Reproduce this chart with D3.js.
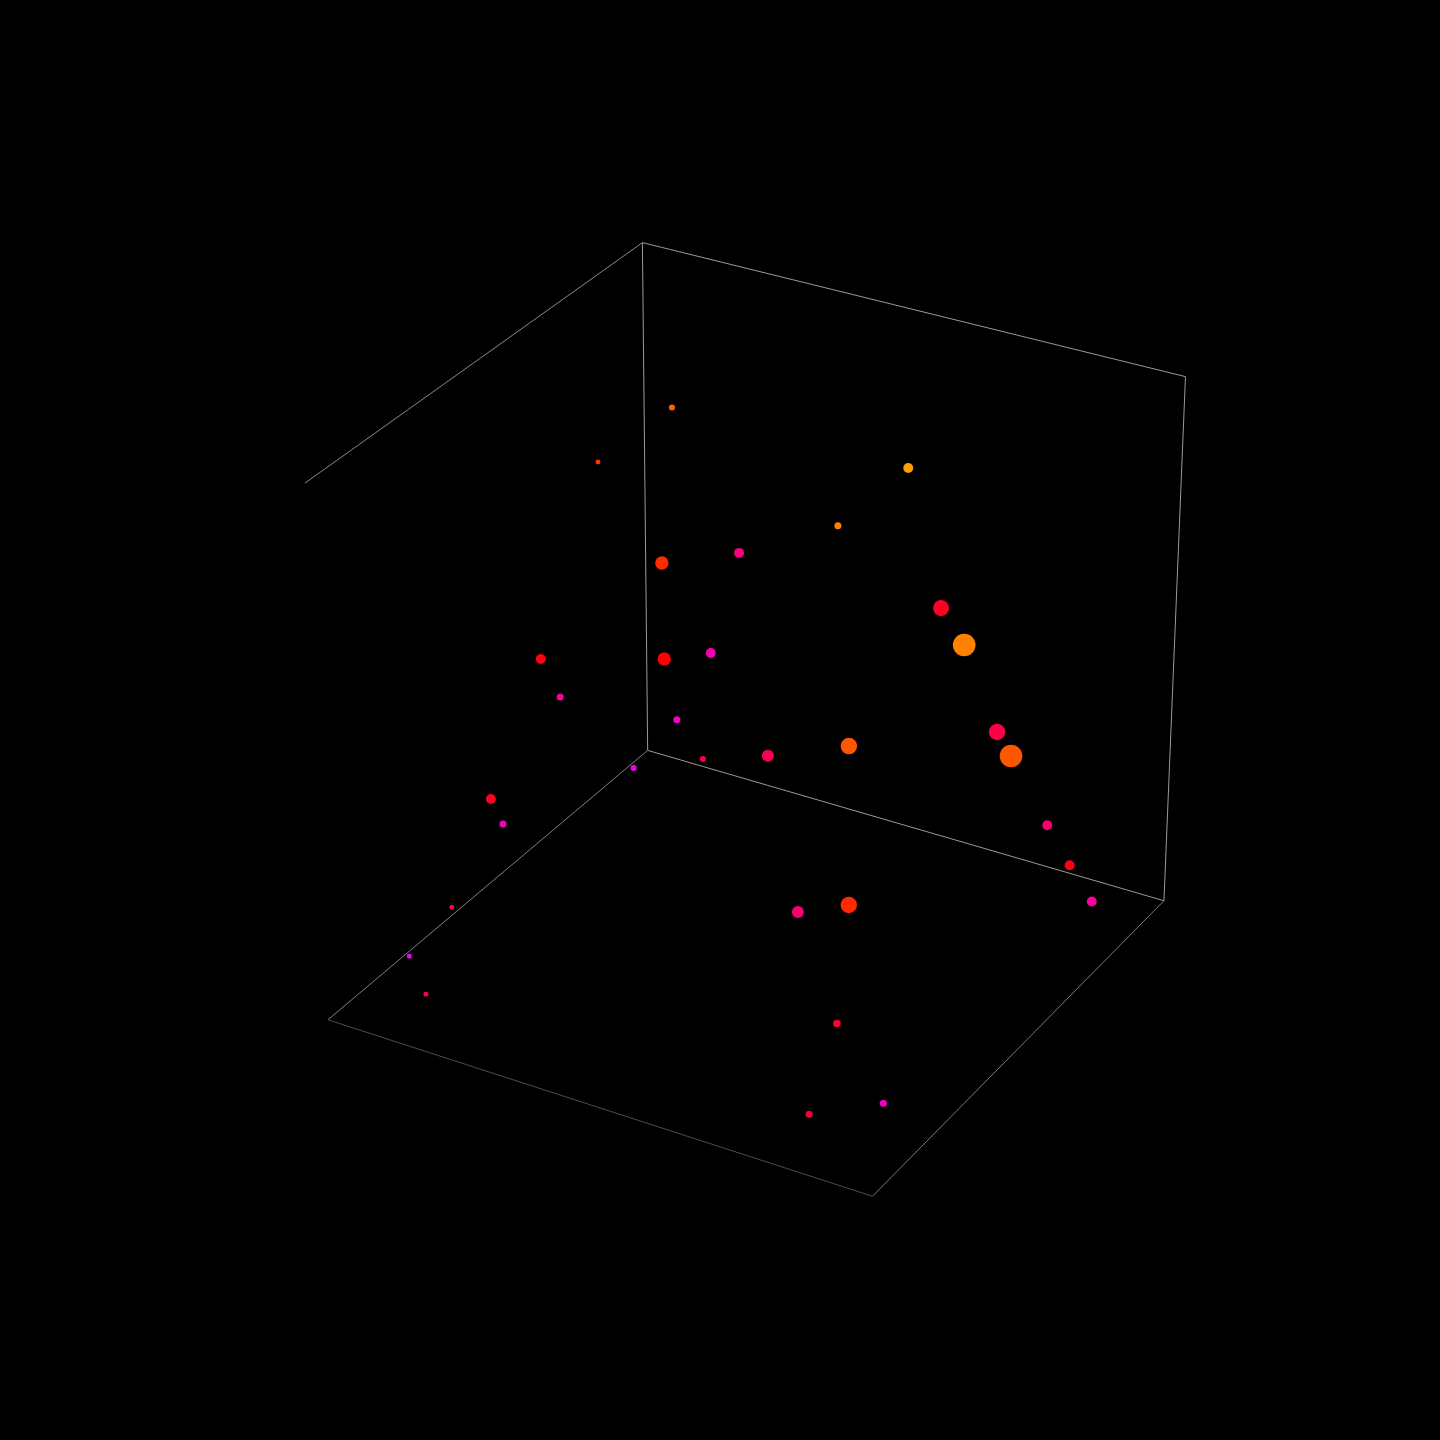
<!DOCTYPE html>
<html><head><meta charset="utf-8">
<script src="https://cdn.jsdelivr.net/npm/d3@7"></script>
<style>html,body{margin:0;padding:0;background:#000;}svg{display:block;}</style>
</head><body>
<svg id="chart" width="1440" height="1440"></svg>
<script>
// ---- data (x, y, z in [0,1]; colour value in [0,1]; size value in [0,100]) ----
const xValues = [0.194,0.151,0.647,0.566,0.304,0.412,0.779,0.802,0.200,0.334,0.424,0.218,0.356,0.405,0.271,0.524,0.678,0.829,0.846,0.887,0.912,0.946,0.150,0.164,0.117,0.078,0.129,0.646,0.744,0.787,0.826,0.918];
const yValues = [0.233,0.394,0.263,0.345,0.452,0.392,0.393,0.356,0.655,0.497,0.503,0.628,0.496,0.497,0.492,0.494,0.505,0.288,0.270,0.215,0.179,0.162,0.734,0.722,0.807,0.876,0.908,0.610,0.620,0.733,0.890,0.818];
const zValues = [0.84,0.80,0.86,0.77,0.68,0.70,0.70,0.62,0.57,0.53,0.57,0.49,0.42,0.36,0.30,0.40,0.47,0.43,0.38,0.23,0.14,0.07,0.33,0.28,0.15,0.08,0.04,0.20,0.25,0.10,0.03,0.04];
const colorValues = [0.80,0.65,0.98,0.89,0.63,0.25,0.43,0.89,0.47,0.49,0.155,0.19,0.11,0.375,0.03,0.34,0.76,0.36,0.76,0.28,0.47,0.19,0.44,0.12,0.34,0.0,0.34,0.28,0.63,0.40,0.40,0.12];
const sizeValues = [27,22,44,31,59,44,71,100,44,59,44,31,31,27,27,53,73,73,100,44,44,44,44,31,22,22,22,53,73,33,31,31];

// ---- camera ----
const camera = {azimuth: 30, elevation: 29.5, distance: 9.2, focal: 5775, cx: 753, cy: 701};
const xScale = d3.scaleLinear().domain([0, 1]).range([-0.5, 0.5]);
const yScale = d3.scaleLinear().domain([0, 1]).range([-0.5, 0.5]);
const zScale = d3.scaleLinear().domain([0, 1]).range([-0.485, 0.485]);
const color = d3.scaleLinear().domain([0, 0.5, 1]).range(["#f000ff", "#ff0000", "#ffa500"]);
const radius = d3.scaleLinear().domain([0, 100]).range([0, 11.3]);

const az = camera.azimuth * Math.PI / 180, el = camera.elevation * Math.PI / 180;
const right = [Math.cos(az), -Math.sin(az), 0];
const fh = [-Math.sin(az), -Math.cos(az)];
const fwd = [Math.cos(el) * fh[0], Math.cos(el) * fh[1], -Math.sin(el)];
const up = [Math.sin(el) * fh[0], Math.sin(el) * fh[1], Math.cos(el)];
const dot = (a, b) => a[0] * b[0] + a[1] * b[1] + a[2] * b[2];
function project(x, y, z) {
  const p = [xScale(x), yScale(y), zScale(z)];
  const depth = camera.distance + dot(p, fwd);
  return [camera.cx + camera.focal * dot(p, right) / depth,
          camera.cy - camera.focal * dot(p, up) / depth, depth];
}

const svg = d3.select("#chart");
svg.append("rect").attr("width", 1440).attr("height", 1440).attr("fill", "#000");

// ---- box edges (back wall y=0, left wall x=0, floor z=0) ----
const edges = [
  {a: [0,0,1], b: [1,0,1], c: "#9a9a9a"},
  {a: [0,0,1], b: [0,1,1], c: "#8a8a8a"},
  {a: [0,0,0], b: [0,0,1], c: "#9a9a9a"},
  {a: [1,0,0], b: [1,0,1], c: "#9a9a9a"},
  {a: [0,0,0], b: [1,0,0], c: "#9a9a9a"},
  {a: [0,0,0], b: [0,1,0], c: "#808080"},
  {a: [0,1,0], b: [1,1,0], c: "#4c4c4c"},
  {a: [1,1,0], b: [1,0,0], c: "#7a7a7a"}
];
svg.append("g").selectAll("line").data(edges).join("line")
  .each(function(d) {
    const p = project(...d.a), q = project(...d.b);
    d3.select(this).attr("x1", p[0]).attr("y1", p[1]).attr("x2", q[0]).attr("y2", q[1]);
  })
  .attr("stroke", d => d.c).attr("stroke-width", 1);

// ---- points ----
const pts = xValues.map((x, i) => {
  const p = project(x, yValues[i], zValues[i]);
  return {sx: p[0], sy: p[1], depth: p[2], c: colorValues[i], s: sizeValues[i]};
}).sort((a, b) => b.depth - a.depth);

svg.append("g").selectAll("circle").data(pts).join("circle")
  .attr("cx", d => d.sx).attr("cy", d => d.sy)
  .attr("r", d => radius(d.s))
  .attr("fill", d => color(d.c));
</script>
</body></html>
